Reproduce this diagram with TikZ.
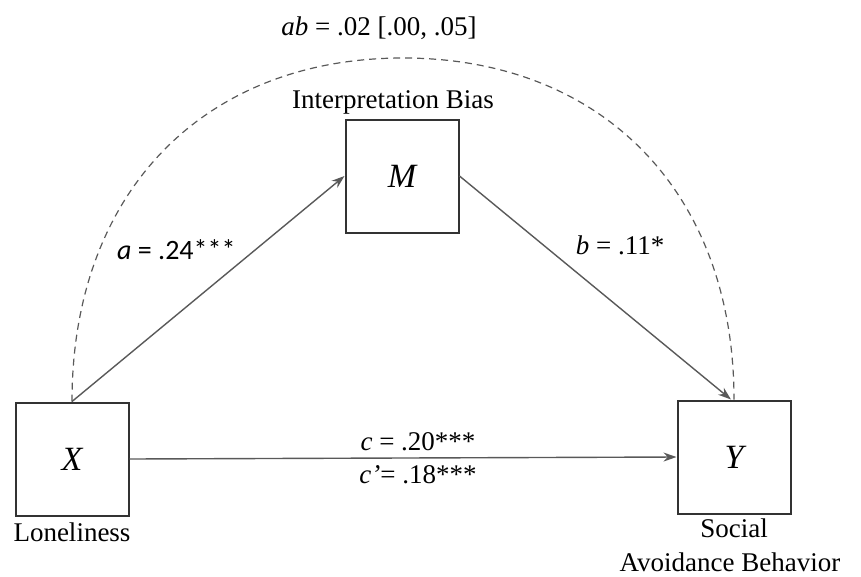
\documentclass[tikz,border=0pt]{standalone}
\usepackage{fontspec}
\setmainfont{Liberation Serif}
\newfontfamily\labelsans{Carlito}
\usetikzlibrary{arrows.meta}
\begin{document}
\begin{tikzpicture}[x=1pt,y=-1pt,
  varbox/.style={draw=black!80,line width=2pt,minimum width=113pt,minimum height=113pt,inner sep=0pt,font=\fontsize{34}{36}\selectfont\itshape},
  lbl/.style={inner sep=0pt,font=\fontsize{27}{30}\selectfont},
  path/.style={draw=black!65,line width=1.4pt,-{Stealth[length=13pt,width=9pt]}},
  indirect/.style={draw=black!65,line width=1.2pt,dash pattern=on 7pt off 5pt}]
\useasboundingbox (0,0) rectangle (861,576);
\node[varbox] (X) at (72,459) {X};
\node[varbox] (M) at (402,176) {M};
\node[varbox] (Y) at (734,457) {Y};
\node[lbl] (lx) at (72,532) {Loneliness};
\node[lbl] (lm) at (393,102) {Interpretation Bias};
\node[lbl] (ly1) at (734,528) {Social};
\node[lbl] (ly2) at (730,562) {Avoidance Behavior};
\node[lbl] (ab) at (379,28) {\textit{ab} = .02 [.00, .05]};
\node[lbl,anchor=west,font=\fontsize{28}{30}\selectfont\labelsans] (la) at (117,250) {\textit{a} = .24***};
\node[lbl] (lb) at (620,245) {\textit{b} = .11*};
\node[lbl] (lc) at (418,442) {\textit{c} = .20***};
\node[lbl] (lc2) at (418,475) {\textit{c’}= .18***};
\draw[indirect] (X.north) .. controls (72,192) and (204,58) .. (403,58) .. controls (602,58) and (734,192) .. (Y.north);
\draw[path] (X.north) -- (M.west);
\draw[path] (M.east) -- ([xshift=-3pt]Y.north);
\draw[path] (X.east) -- (Y.west);
\end{tikzpicture}
\end{document}
